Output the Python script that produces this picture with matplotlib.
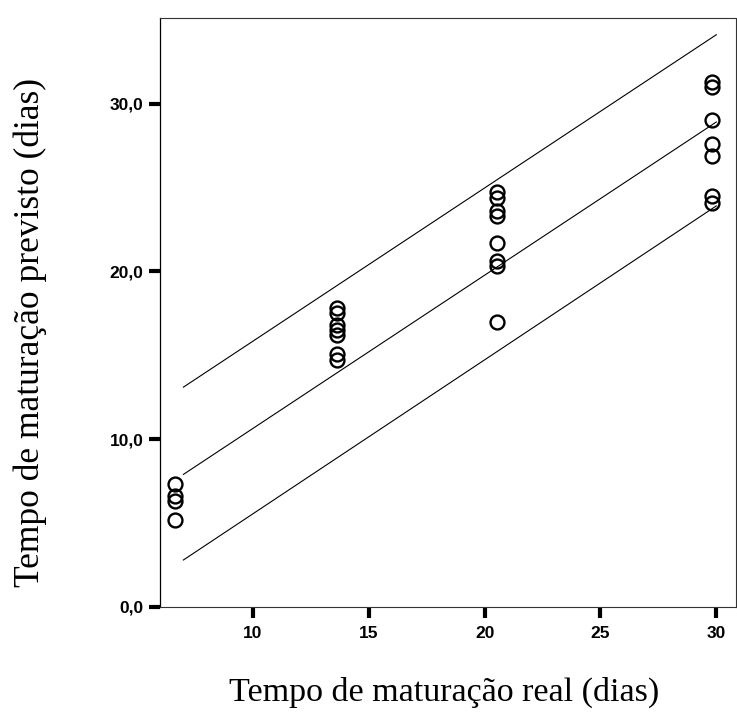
import matplotlib.pyplot as plt

# observed points, grouped by maturation day
x_real = [6.65] * 4 + [13.65] * 7 + [20.55] * 8 + [29.8] * 7
y_pred = [7.3, 6.6, 6.3, 5.2,
          17.8, 17.5, 16.8, 16.5, 16.2, 15.1, 14.7,
          24.7, 24.4, 23.6, 23.3, 21.7, 20.6, 20.3, 17.0,
          31.3, 31.0, 29.0, 27.6, 26.9, 24.5, 24.1]

# fitted line and its prediction limits
line_x = [7, 30]
fit_mid = [7.9, 28.9]
fit_upper = [13.1, 34.1]
fit_lower = [2.8, 23.9]

xticks = [10, 15, 20, 25, 30]
yticks = [0, 10, 20, 30]
ytick_labels = ['0,0', '10,0', '20,0', '30,0']

fig = plt.figure(figsize=(7.37, 7.19), dpi=100)
ax = fig.add_axes([0.2171, 0.1558, 0.7815, 0.8192])

ax.plot(line_x, fit_upper, color='black', lw=0.8)
ax.plot(line_x, fit_mid, color='black', lw=0.8)
ax.plot(line_x, fit_lower, color='black', lw=0.8)
ax.plot(x_real, y_pred, 'o', ms=10, mfc='none', mec='black', mew=1.7)

ax.set_xlim(5.99, 30.85)
ax.set_ylim(0, 35.1)

ax.set_xticks(xticks)
ax.set_xticklabels([str(v) for v in xticks])
ax.set_yticks(yticks)
ax.set_yticklabels(ytick_labels)
for lab in ax.get_xticklabels() + ax.get_yticklabels():
    lab.set_fontfamily('Liberation Sans')
    lab.set_fontweight('bold')
    lab.set_fontsize(12.5)
ax.tick_params(direction='out', length=8, width=3, pad=4, color='black')
ax.tick_params(axis='x', pad=6)

ax.spines['left'].set_linewidth(0.9)
for side in ['top', 'right', 'bottom']:
    ax.spines[side].set_linestyle((0, (2, 1)))
    ax.spines[side].set_linewidth(0.8)
    ax.spines[side].set_color('#333333')

fig.text(0.041, 0.538, 'Tempo de maturação previsto (dias)', rotation=90,
         ha='center', va='center', fontsize=25.5, family='Liberation Serif')
fig.text(0.603, 0.037, 'Tempo de maturação real (dias)',
         ha='center', va='center', fontsize=24.5, family='Liberation Serif')

fig.savefig('out.png', dpi=100)
